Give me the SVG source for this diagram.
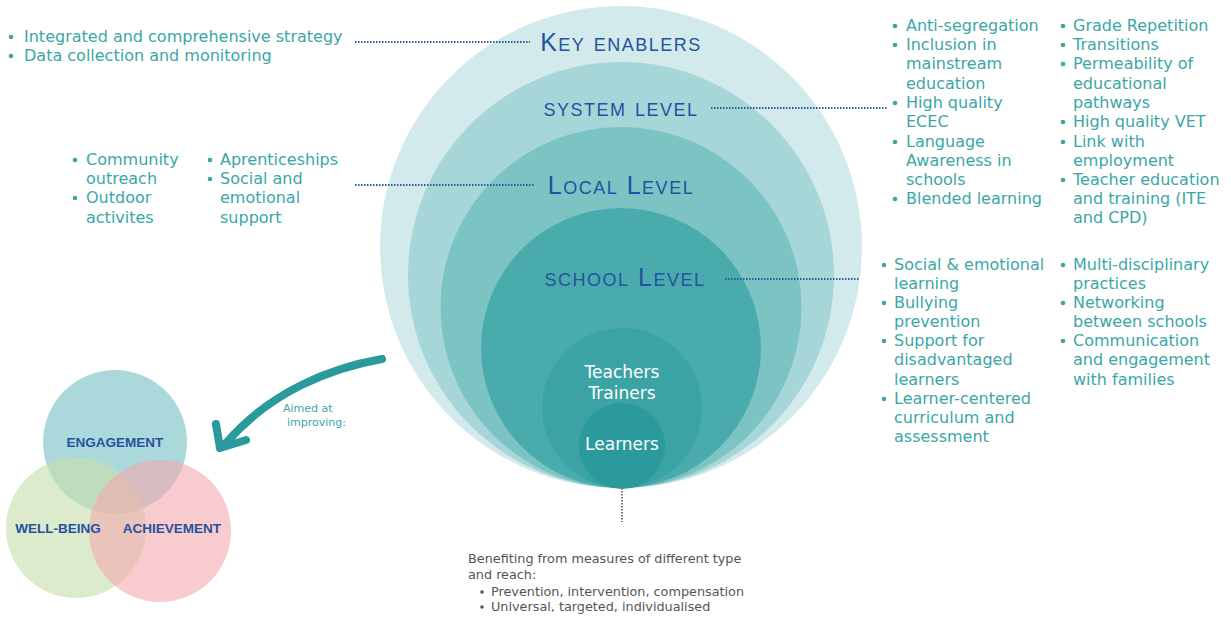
<svg xmlns="http://www.w3.org/2000/svg" width="1231" height="617" viewBox="0 0 1231 617">
<defs>
<style>
.li{font-family:"DejaVu Sans","Liberation Sans",sans-serif;font-size:16px;fill:#3aa7a6}
.b{fill:#3aa7a6}
.bg{fill:#555555}
.lv{font-family:"Liberation Sans","DejaVu Sans",sans-serif;font-variant:small-caps;font-size:25px;letter-spacing:1.5px;fill:#2552a0;text-anchor:middle}
.wt{font-family:"DejaVu Sans","Liberation Sans",sans-serif;font-size:17px;fill:#ffffff;text-anchor:middle}
.vn{font-family:"Liberation Sans","DejaVu Sans",sans-serif;font-size:13.5px;font-weight:bold;fill:#2552a0;text-anchor:middle}
.bt{font-family:"DejaVu Sans","Liberation Sans",sans-serif;font-size:12.8px;fill:#555555}
.ai{font-family:"DejaVu Sans","Liberation Sans",sans-serif;font-size:11px;fill:#3aa7a6}
.dot{stroke:#2f5b9a;stroke-width:2;stroke-dasharray:1.5 1.5;fill:none}
</style>
</defs>
<rect width="1231" height="617" fill="#ffffff"/>

<g id="rings">
<circle id="key-enablers-ring" cx="621" cy="247" r="241" fill="#d3eaec"/>
<circle id="system-ring" cx="621" cy="275" r="213" fill="#a7d6d8"/>
<circle id="local-ring" cx="621" cy="307.5" r="180.5" fill="#7cc3c4"/>
<circle id="school-ring" cx="621" cy="348" r="140" fill="#4aabac"/>
<circle id="teachers-ring" cx="622" cy="408" r="80" fill="#3ca3a5"/>
<circle id="learners-ring" cx="622" cy="446" r="43" fill="#2a9a9c"/>
</g>

<g id="connectors">
<line class="dot" x1="355" y1="42" x2="530" y2="42"/>
<line class="dot" x1="711" y1="108" x2="888" y2="108"/>
<line class="dot" x1="355" y1="185" x2="535" y2="185"/>
<line class="dot" x1="725" y1="279" x2="860" y2="279"/>
<line x1="622" y1="488" x2="622" y2="522" stroke="#777777" stroke-width="2" stroke-dasharray="1.5 1.5"/>
<path id="arrow" d="M382 359 C330 368 270 392 226 443 M216 424 L220 448 L246 440" fill="none" stroke="#2a9a9c" stroke-width="8" stroke-linecap="round" stroke-linejoin="round"/>
</g>

<g id="label-key-enablers"><text class="lv" x="621" y="51">Key enablers</text></g>
<g id="label-system"><text class="lv" x="621" y="116">system level</text></g>
<g id="label-local"><text class="lv" x="621" y="194">Local Level</text></g>
<g id="label-school"><text class="lv" x="625" y="286">school Level</text></g>
<g id="label-teachers"><text class="wt" x="622" y="378">Teachers</text><text class="wt" x="622" y="399">Trainers</text></g>
<g id="label-learners"><text class="wt" x="622" y="450">Learners</text></g>

<g id="key-enablers-list">
<circle class="b" cx="11" cy="37" r="2.3"/><circle class="b" cx="11" cy="56" r="2.3"/>
<g class="li">
<text x="24" y="42">Integrated and comprehensive strategy</text>
<text x="24" y="61">Data collection and monitoring</text>
</g>
</g>

<g id="local-list">
<circle class="b" cx="75" cy="160" r="2.3"/><circle class="b" cx="75" cy="198" r="2.3"/>
<circle class="b" cx="210" cy="160" r="2.3"/><circle class="b" cx="210" cy="179" r="2.3"/>
<g class="li">
<text x="86" y="165">Community</text>
<text x="86" y="184">outreach</text>
<text x="86" y="203">Outdoor</text>
<text x="86" y="223">activites</text>
<text x="220" y="165">Aprenticeships</text>
<text x="220" y="184">Social and</text>
<text x="220" y="203">emotional</text>
<text x="220" y="223">support</text>
</g>
</g>

<g id="system-list">
<circle class="b" cx="895" cy="26" r="2.3"/><circle class="b" cx="895" cy="45" r="2.3"/>
<circle class="b" cx="895" cy="103" r="2.3"/><circle class="b" cx="895" cy="142" r="2.3"/>
<circle class="b" cx="895" cy="199" r="2.3"/>
<circle class="b" cx="1063" cy="26" r="2.3"/><circle class="b" cx="1063" cy="45" r="2.3"/>
<circle class="b" cx="1063" cy="64" r="2.3"/><circle class="b" cx="1063" cy="122" r="2.3"/>
<circle class="b" cx="1063" cy="142" r="2.3"/><circle class="b" cx="1063" cy="180" r="2.3"/>
<g class="li">
<text x="906" y="31">Anti-segregation</text>
<text x="906" y="50">Inclusion in</text>
<text x="906" y="69">mainstream</text>
<text x="906" y="89">education</text>
<text x="906" y="108">High quality</text>
<text x="906" y="127">ECEC</text>
<text x="906" y="147">Language</text>
<text x="906" y="166">Awareness in</text>
<text x="906" y="185">schools</text>
<text x="906" y="204">Blended learning</text>
<text x="1073" y="31">Grade Repetition</text>
<text x="1073" y="50">Transitions</text>
<text x="1073" y="69">Permeability of</text>
<text x="1073" y="89">educational</text>
<text x="1073" y="108">pathways</text>
<text x="1073" y="127">High quality VET</text>
<text x="1073" y="147">Link with</text>
<text x="1073" y="166">employment</text>
<text x="1073" y="185">Teacher education</text>
<text x="1073" y="204">and training (ITE</text>
<text x="1073" y="223">and CPD)</text>
</g>
</g>

<g id="school-list">
<circle class="b" cx="884" cy="265" r="2.3"/><circle class="b" cx="884" cy="303" r="2.3"/>
<circle class="b" cx="884" cy="341" r="2.3"/><circle class="b" cx="884" cy="399" r="2.3"/>
<circle class="b" cx="1063" cy="265" r="2.3"/><circle class="b" cx="1063" cy="303" r="2.3"/>
<circle class="b" cx="1063" cy="341" r="2.3"/>
<g class="li">
<text x="894" y="270">Social &amp; emotional</text>
<text x="894" y="289">learning</text>
<text x="894" y="308">Bullying</text>
<text x="894" y="327">prevention</text>
<text x="894" y="346">Support for</text>
<text x="894" y="365">disadvantaged</text>
<text x="894" y="385">learners</text>
<text x="894" y="404">Learner-centered</text>
<text x="894" y="423">curriculum and</text>
<text x="894" y="442">assessment</text>
<text x="1073" y="270">Multi-disciplinary</text>
<text x="1073" y="289">practices</text>
<text x="1073" y="308">Networking</text>
<text x="1073" y="327">between schools</text>
<text x="1073" y="346">Communication</text>
<text x="1073" y="365">and engagement</text>
<text x="1073" y="385">with families</text>
</g>
</g>

<g id="aimed-label"><text class="ai" x="283" y="412">Aimed at</text><text class="ai" x="287" y="426">improving:</text></g>

<g id="venn">
<g id="engagement"><circle cx="115" cy="442" r="72" fill="#8fcbcd" fill-opacity="0.75"/></g>
<g id="well-being"><circle cx="76" cy="528" r="70" fill="#c8e1b0" fill-opacity="0.65"/></g>
<g id="achievement"><circle cx="160" cy="531" r="71" fill="#f4a9af" fill-opacity="0.6"/></g>
<text class="vn" x="115" y="447">ENGAGEMENT</text>
<text class="vn" x="58" y="533">WELL-BEING</text>
<text class="vn" x="172" y="533">ACHIEVEMENT</text>
</g>

<g id="benefit-text">
<circle class="bg" cx="482" cy="592" r="1.8"/><circle class="bg" cx="482" cy="607" r="1.8"/>
<g class="bt">
<text x="468" y="563">Benefiting from measures of different type</text>
<text x="468" y="579">and reach:</text>
<text x="491" y="596">Prevention, intervention, compensation</text>
<text x="491" y="611">Universal, targeted, individualised</text>
</g>
</g>
</svg>
